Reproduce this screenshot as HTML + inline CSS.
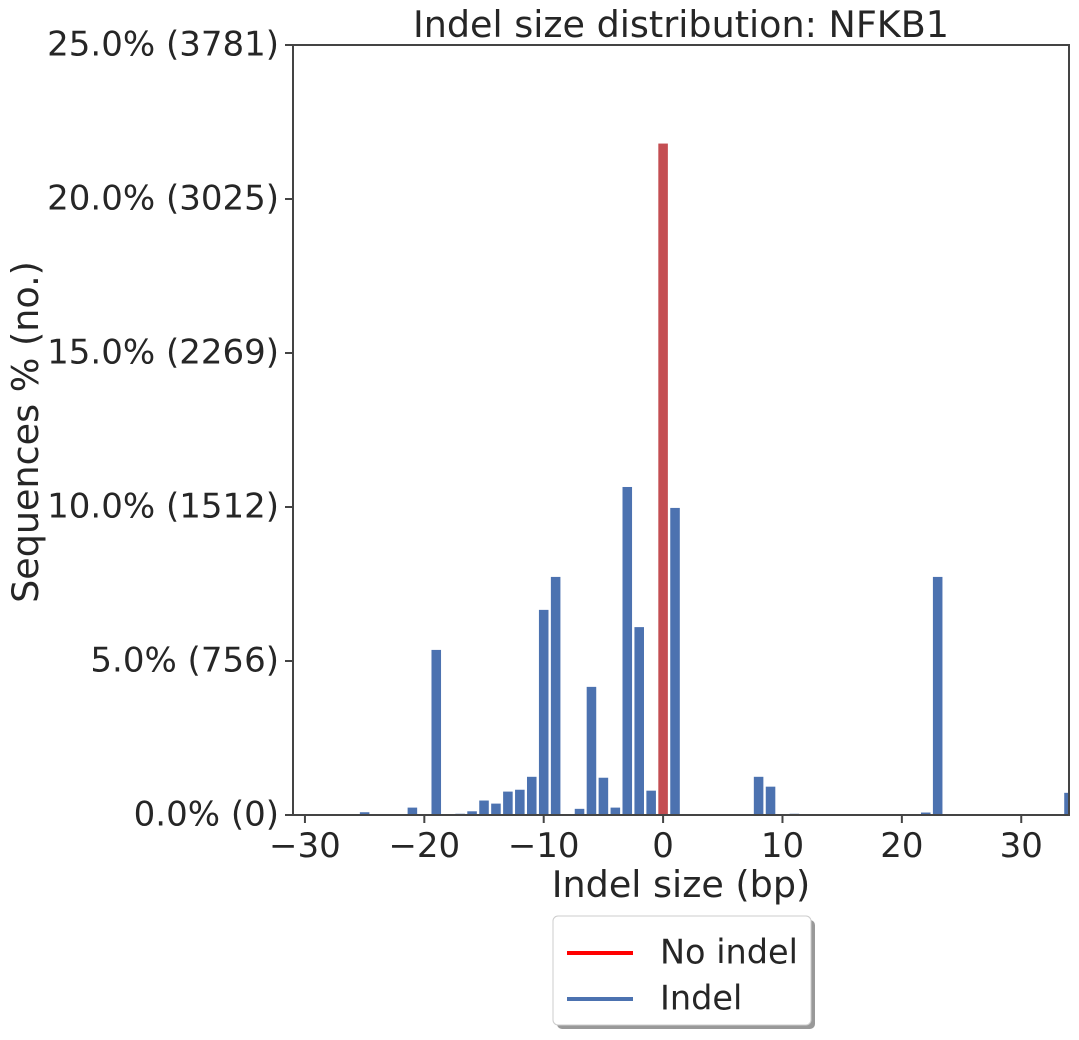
<!DOCTYPE html>
<html><head><meta charset="utf-8"><style>
body{margin:0;background:#fff;}
svg text{font-family:"DejaVu Sans","Liberation Sans",sans-serif;fill:#262626;}
</style></head><body>
<svg id="chart" width="1079" height="1035" xmlns="http://www.w3.org/2000/svg">
<rect x="0" y="0" width="1079" height="1035" fill="#fff"/>
<g id="plot"></g>
<text x="681" y="37" font-size="36.5" text-anchor="middle">Indel size distribution: NFKB1</text>
<text x="681" y="897" font-size="36.5" text-anchor="middle">Indel size (bp)</text>
<text transform="translate(38,432) rotate(-90)" font-size="36.5" text-anchor="middle">Sequences % (no.)</text>
<g>
<rect x="557" y="920" width="258" height="109" rx="5" fill="#999"/>
<rect x="553" y="916" width="258" height="109" rx="5" fill="#fff" stroke="#ccc" stroke-width="1"/>
<line x1="567" y1="953" x2="633" y2="953" stroke="#ff0000" stroke-width="4"/>
<text x="660" y="954" font-size="33.5" dominant-baseline="middle">No indel</text>
<line x1="567" y1="999" x2="633" y2="999" stroke="#4c72b0" stroke-width="4"/>
<text x="660" y="1000" font-size="33.5" dominant-baseline="middle">Indel</text>
</g>
</svg>
<script>
const sizes = [-25,-21,-19,-17,-16,-15,-14,-13,-12,-11,-10,-9,-8,-7,-6,-5,-4,-3,-2,-1,0,1,4,6,8,9,11,22,23,34];
const percents = [0.09,0.24,5.36,0.04,0.12,0.47,0.37,0.76,0.82,1.24,6.66,7.73,0.02,0.2,4.16,1.21,0.24,10.65,6.1,0.79,21.8,9.97,0.01,0.01,1.24,0.92,0.04,0.08,7.73,0.72];
const yTicks = [0,5,10,15,20,25];
const yTickLabels = ["0.0% (0)","5.0% (756)","10.0% (1512)","15.0% (2269)","20.0% (3025)","25.0% (3781)"];
const xTicks = [-30,-20,-10,0,10,20,30];
const xTickLabels = ["\u221230","\u221220","\u221210","0","10","20","30"];
const L=293,R=1069,T=45,B=815,xmin=-31,xmax=34,ymax=25;
const xs=v=>L+(v-xmin)/(xmax-xmin)*(R-L);
const ys=v=>B-v/ymax*(B-T);
const NS="http://www.w3.org/2000/svg";
const g=document.getElementById('plot');
function mk(t,a){const e=document.createElementNS(NS,t);for(const k in a)e.setAttribute(k,a[k]);return e;}
const clip=mk('clipPath',{id:'pc'});clip.appendChild(mk('rect',{x:L,y:T,width:R-L,height:B-T}));g.appendChild(clip);
const bars=mk('g',{'clip-path':'url(#pc)'});g.appendChild(bars);
sizes.forEach((s,i)=>{
  const w=0.8*(R-L)/(xmax-xmin);
  const r=mk('rect',{x:xs(s)-w/2,y:ys(percents[i]),width:w,height:B-ys(percents[i]),fill:s===0?'#c44e52':'#4c72b0'});
  
  
  bars.appendChild(r);
});
const frame=mk('rect',{x:L,y:T,width:R-L,height:B-T,fill:'none',stroke:'#444',"stroke-width":2});


g.appendChild(frame);
yTicks.forEach((v,i)=>{
  const y=ys(v);
  g.appendChild(mk('line',{x1:L-8,x2:L,y1:y,y2:y,stroke:'#444',"stroke-width":2}));
  const t=mk('text',{x:L-14,y:y+1,'font-size':34,'text-anchor':'end','dominant-baseline':'middle'});
  t.textContent=yTickLabels[i];
  
  
  g.appendChild(t);
});
xTicks.forEach((v,i)=>{
  const x=xs(v);
  g.appendChild(mk('line',{x1:x,x2:x,y1:B,y2:B+8,stroke:'#444',"stroke-width":2}));
  const t=mk('text',{x:x,y:B+42,'font-size':34,'text-anchor':'middle'});
  t.textContent=xTickLabels[i];
  
  
  g.appendChild(t);
});
</script>
</body></html>
